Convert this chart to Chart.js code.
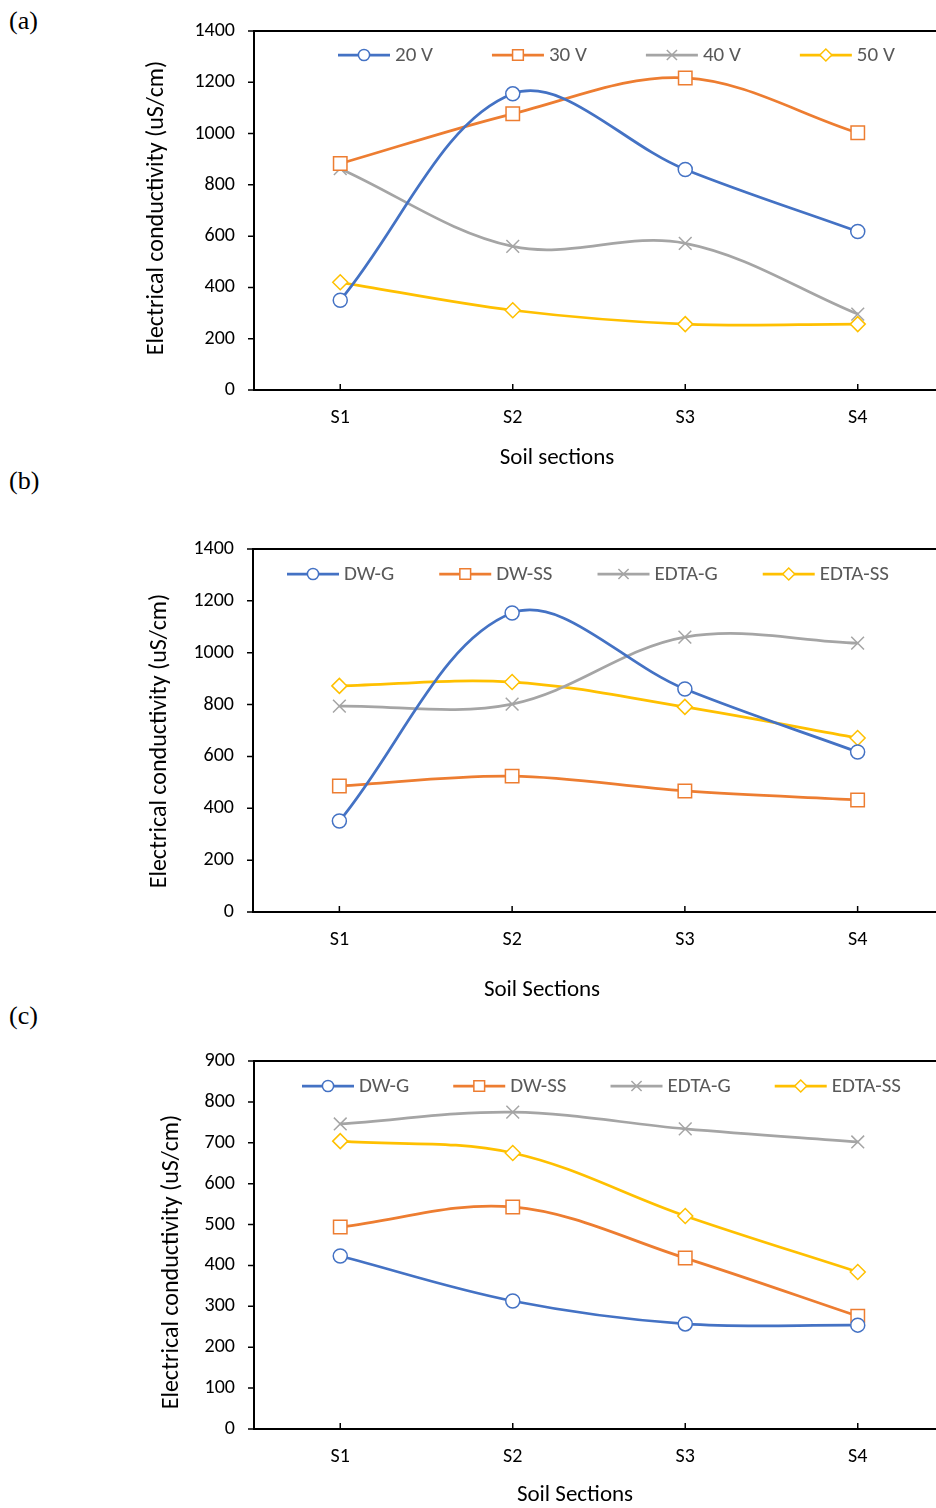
<!DOCTYPE html>
<html>
<head>
<meta charset="utf-8">
<script src="https://cdn.jsdelivr.net/npm/chart.js@4.4.0/dist/chart.umd.min.js"></script>
<style>
html, body { margin: 0; padding: 0; background: #fff; width: 936px; height: 1508px; overflow: hidden; position: relative; }
canvas { position: absolute; left: 0; }
.tag { position: absolute; left: 9px; font-family: "Liberation Serif", "Times New Roman", serif; font-size: 26px; color: #000; line-height: 1; }
</style>
</head>
<body>
<div class="tag" style="top:8px">(a)</div>
<div class="tag" style="top:468px">(b)</div>
<div class="tag" style="top:1003px">(c)</div>
<canvas id="chart-a" width="960" height="470" style="top:0px"></canvas>
<canvas id="chart-b" width="960" height="502" style="top:500px"></canvas>
<canvas id="chart-c" width="960" height="477" style="top:1030px"></canvas>
<script>
const sections = ["S1", "S2", "S3", "S4"];

// (a) voltage runs
const voltLabels = ["20 V", "30 V", "40 V", "50 V"];
const ec20V = [350, 1155, 860, 618];
const ec30V = [883, 1077, 1217, 1003];
const ec40V = [863, 560, 572, 296];
const ec50V = [420, 311, 257, 257];

// (b) and (c) electrolyte runs
const fluidLabels = ["DW-G", "DW-SS", "EDTA-G", "EDTA-SS"];
const ecDWG_b = [351, 1153, 860, 617];
const ecDWSS_b = [486, 524, 467, 432];
const ecEDTAG_b = [794, 802, 1060, 1037];
const ecEDTASS_b = [872, 887, 791, 671];

const ecDWG_c = [423, 313, 257, 254];
const ecDWSS_c = [494, 543, 418, 276];
const ecEDTAG_c = [746, 775, 734, 702];
const ecEDTASS_c = [704, 675, 521, 384];

const yTitle = "Electrical conductivity (uS/cm)";

const looks = [
  { color: "#4472C4", point: "circle", radius: 7 },
  { color: "#ED7D31", point: "rect", radius: 9.5 },
  { color: "#A5A5A5", point: "crossRot", radius: 9 },
  { color: "#FFC000", point: "rectRot", radius: 7.5 }
];

const FONT = "Carlito, 'Liberation Sans', Arial, sans-serif";

// black box round the plot area, y ticks out, x ticks in
const framePlugin = {
  id: "frame",
  afterDraw(chart) {
    const a = chart.chartArea, ctx = chart.ctx;
    const xs = chart.scales.x, ys = chart.scales.y;
    ctx.save();
    ctx.strokeStyle = "#000";
    ctx.lineWidth = 2;
    ctx.strokeRect(a.left, a.top, a.right - a.left, a.bottom - a.top);
    ctx.lineWidth = 1.5;
    ctx.beginPath();
    ys.ticks.forEach(t => {
      const py = ys.getPixelForValue(t.value);
      ctx.moveTo(a.left - 6, py);
      ctx.lineTo(a.left, py);
    });
    xs.ticks.forEach((t, i) => {
      const px = xs.getPixelForTick(i);
      ctx.moveTo(px, a.bottom);
      ctx.lineTo(px, a.bottom - 6);
    });
    ctx.stroke();
    ctx.restore();
  }
};

// axis captions, placed like the original figure (not centred on the plot)
const captions = {
  id: "captions",
  afterDraw(chart, args, opts) {
    const ctx = chart.ctx;
    ctx.save();
    ctx.fillStyle = "#000";
    ctx.textAlign = "center";
    ctx.textBaseline = "middle";
    ctx.font = "23px " + FONT;
    ctx.fillText(opts.xText, opts.xAt[0], opts.xAt[1]);
    ctx.translate(opts.yAt[0], opts.yAt[1]);
    ctx.rotate(-Math.PI / 2);
    ctx.font = "24px " + FONT;
    ctx.fillText(opts.yText, 0, 0);
    ctx.restore();
  }
};

// legend row drawn inside the plot, line + marker + label
const rowLegend = {
  id: "rowLegend",
  afterDraw(chart, args, opts) {
    const ctx = chart.ctx;
    let x = opts.x;
    const y = opts.y;
    ctx.save();
    ctx.font = "21px " + FONT;
    ctx.textBaseline = "middle";
    chart.data.datasets.forEach(ds => {
      ctx.strokeStyle = ds.borderColor;
      ctx.lineWidth = 2.75;
      ctx.beginPath();
      ctx.moveTo(x, y);
      ctx.lineTo(x + 52, y);
      ctx.stroke();
      ctx.fillStyle = "#fff";
      ctx.lineWidth = 1.5;
      Chart.helpers.drawPoint(ctx, { pointStyle: ds.pointStyle, radius: ds.pointRadius * 0.8, rotation: 0, borderWidth: 1.5 }, x + 26, y);
      ctx.fillStyle = "#595959";
      ctx.fillText(ds.label, x + 57, y + 1);
      x += 57 + ctx.measureText(ds.label).width + opts.gap;
    });
    ctx.restore();
  }
};

function drawPanel(id, names, values, yMax, yStep, xTitle, box) {
  const datasets = values.map((v, i) => ({
    label: names[i],
    data: v,
    borderColor: looks[i].color,
    backgroundColor: "#fff",
    borderWidth: 2.75,
    tension: 0.35,
    pointStyle: looks[i].point,
    pointRadius: looks[i].radius,
    pointBorderWidth: 1.5,
    pointBackgroundColor: "#fff",
    pointBorderColor: looks[i].color
  }));
  new Chart(document.getElementById(id), {
    type: "line",
    data: { labels: sections, datasets: datasets },
    options: {
      responsive: false,
      animation: false,
      layout: { padding: { top: box.top, left: 0, right: 16, bottom: 0 } },
      plugins: {
        legend: { display: false },
        tooltip: { enabled: false },
        rowLegend: { x: box.legendX, y: box.legendY, gap: box.legendGap },
        captions: { xText: xTitle, xAt: box.xTitleAt, yText: yTitle, yAt: box.yTitleAt }
      },
      scales: {
        x: {
          offset: true,
          grid: { display: false, drawTicks: false },
          border: { display: false },
          ticks: { color: "#000", font: { family: FONT, size: 20 }, padding: 16 },
          afterFit(s) { s.height = box.xh; }
        },
        y: {
          min: 0,
          max: yMax,
          grid: { display: false, drawTicks: false },
          border: { display: false },
          ticks: { stepSize: yStep, color: "#000", font: { family: FONT, size: 20 }, padding: 19, callback: v => String(v) },
          afterFit(s) { s.width = box.yw; }
        }
      }
    },
    plugins: [framePlugin, rowLegend, captions]
  });
}

drawPanel("chart-a", voltLabels, [ec20V, ec30V, ec40V, ec50V], 1400, 200, "Soil sections",
  { top: 30, yw: 254, xh: 80, legendX: 338, legendY: 55, legendGap: 59, xTitleAt: [557, 458], yTitleAt: [157, 208] });
drawPanel("chart-b", fluidLabels, [ecDWG_b, ecDWSS_b, ecEDTAG_b, ecEDTASS_b], 1400, 200, "Soil Sections",
  { top: 49, yw: 253, xh: 90, legendX: 287, legendY: 74, legendGap: 45, xTitleAt: [542, 490], yTitleAt: [160, 241] });
drawPanel("chart-c", fluidLabels, [ecDWG_c, ecDWSS_c, ecEDTAG_c, ecEDTASS_c], 900, 100, "Soil Sections",
  { top: 31, yw: 254, xh: 78, legendX: 302, legendY: 56, legendGap: 44, xTitleAt: [575, 465], yTitleAt: [172, 232] });
</script>
</body>
</html>
